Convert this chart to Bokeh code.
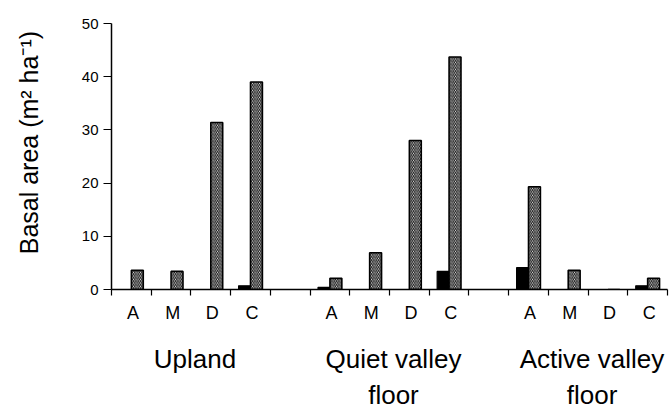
from bokeh.plotting import figure
from bokeh.models import Range1d, FixedTicker, LinearAxis, ColumnDataSource
from bokeh.embed import file_html
from bokeh.resources import INLINE

# ---- data ----
groups = ["Upland", "Quiet valley floor", "Active valley floor"]
group_line1 = ["Upland", "Quiet valley", "Active valley"]
group_line2 = ["", "floor", "floor"]
classes = ["A", "M", "D", "C"]
solid_upland = [0.0, 0.0, 0.0, 0.7]
solid_quiet = [0.4, 0.0, 0.0, 3.4]
solid_active = [4.1, 0.0, 0.0, 0.7]
hatch_upland = [3.6, 3.4, 31.4, 39.0]
hatch_quiet = [2.1, 6.9, 28.0, 43.7]
hatch_active = [19.3, 3.6, 0.0, 2.1]
y_ticks = [0, 10, 20, 30, 40, 50]
y_title = "Basal area (m\u00b2 ha\u207b\u00b9)"

solid = [solid_upland, solid_quiet, solid_active]
hatched = [hatch_upland, hatch_quiet, hatch_active]

FONT = "Liberation Sans"

xs_center, s_vals, h_vals, letter_x, letter_t = [], [], [], [], []
group_centers = []
for gi in range(len(groups)):
    start = gi * 5
    for ci, c in enumerate(classes):
        xc = start + ci + 0.5
        xs_center.append(xc)
        s_vals.append(solid[gi][ci])
        h_vals.append(hatched[gi][ci])
        letter_x.append(round(xc + 0.04, 3))
        letter_t.append(c)
    group_centers.append(round(start + 2.0 + 0.1, 3))

src_s = ColumnDataSource(dict(x=[x - 0.15 for x in xs_center], top=s_vals))
src_h = ColumnDataSource(dict(x=[x + 0.15 for x in xs_center], top=h_vals))

p = figure(width=670, height=412, output_backend="svg", toolbar_location=None,
           x_range=Range1d(0, 14), y_range=Range1d(0, 50),
           min_border_left=111, min_border_right=3, min_border_top=23,
           min_border_bottom=123)
p.outline_line_color = None
p.xgrid.grid_line_color = None
p.ygrid.grid_line_color = None
p.background_fill_color = "white"
p.border_fill_color = "white"

p.vbar(x="x", top="top", bottom=0, width=0.3, source=src_s,
       fill_color="black", line_color="black", line_width=1.2)
p.vbar(x="x", top="top", bottom=0, width=0.3, source=src_h,
       fill_color="white", line_color="black", line_width=1.6,
       hatch_pattern="\\", hatch_color="#111111", hatch_scale=3.5, hatch_weight=1.1)

# main x axis: slot boundary ticks
xt = list(range(0, 15))
p.xaxis.ticker = FixedTicker(ticks=xt)
p.xaxis.major_label_overrides = {t: "" for t in xt}
p.xaxis.major_label_text_font_size = "2px"
p.xaxis.major_label_standoff = 0
p.xaxis.major_tick_out = 6
p.xaxis.major_tick_in = 0
p.xaxis.minor_tick_line_color = None
p.xaxis.axis_line_width = 1.5
p.xaxis.major_tick_line_width = 1.2


def text_axis(ticks, labels, size, standoff):
    ax = LinearAxis(ticker=FixedTicker(ticks=ticks),
                    major_label_overrides={t: l for t, l in zip(ticks, labels)},
                    axis_line_color=None, major_tick_line_color=None,
                    minor_tick_line_color=None, major_tick_out=0, major_tick_in=0,
                    major_label_standoff=standoff,
                    major_label_text_font=FONT,
                    major_label_text_font_size=size,
                    major_label_text_color="black")
    p.add_layout(ax, "below")
    return ax


text_axis(letter_x, letter_t, "18px", 7)
text_axis(group_centers, group_line1, "26px", 18)
text_axis(group_centers[1:], group_line2[1:], "26px", 3)

# y axis
p.yaxis.ticker = FixedTicker(ticks=y_ticks)
p.yaxis.major_tick_out = 8
p.yaxis.major_tick_in = 0
p.yaxis.minor_tick_line_color = None
p.yaxis.axis_line_width = 1.5
p.yaxis.major_tick_line_width = 1.2
p.yaxis.major_label_text_font = FONT
p.yaxis.major_label_text_font_size = "15px"
p.yaxis.major_label_text_color = "black"
p.yaxis.major_label_standoff = 5
p.yaxis.axis_label = "\u00a0\u00a0\u00a0\u00a0" + y_title
p.yaxis.axis_label_text_font = FONT
p.yaxis.axis_label_text_font_size = "25px"
p.yaxis.axis_label_text_font_style = "normal"
p.yaxis.axis_label_text_color = "black"
p.yaxis.axis_label_standoff = 36

open("out.html", "w").write(file_html(p, INLINE))
